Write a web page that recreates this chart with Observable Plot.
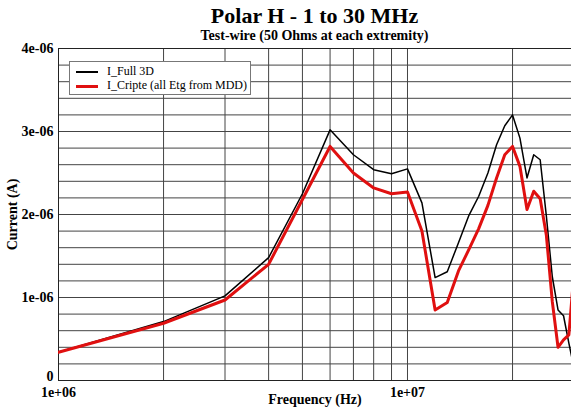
<!DOCTYPE html>
<html>
<head>
<meta charset="utf-8">
<script src="https://cdn.jsdelivr.net/npm/d3@7"></script>
<script src="https://cdn.jsdelivr.net/npm/@observablehq/plot@0.6"></script>
<style>
  body { margin: 0; background: #fff; }
  #wrap { position: relative; width: 571px; height: 410px; overflow: hidden; font-family: "Liberation Serif", "Times New Roman", serif; }
  #title { position: absolute; left: 58px; width: 513px; top: 4px; text-align: center; font-weight: bold; font-size: 22px; line-height: 24px; z-index: 2; }
  #subtitle { position: absolute; left: 58px; width: 513px; top: 28px; text-align: center; font-weight: bold; font-size: 14px; line-height: 16px; z-index: 2; }
  #head { height: 36px; }
  #chart svg { overflow: visible; }
  #legend { position: absolute; left: 69px; top: 61px; width: 180px; height: 32px; background: #fff; border: 1px solid #777; font-size: 12px; }
  .row { position: absolute; left: 6px; height: 14px; line-height: 14px; white-space: nowrap; }
  .sw { display: inline-block; width: 22px; vertical-align: middle; margin-right: 9px; }
</style>
</head>
<body>
<div id="wrap">
  <div id="head"></div>
  <div id="title">Polar H - 1 to 30 MHz</div>
  <div id="subtitle">Test-wire (50 Ohms at each extremity)</div>
  <div id="chart"></div>
  <div id="legend">
    <div class="row" style="top:2px"><span class="sw" style="border-top:2px solid #000"></span>I_Full 3D</div>
    <div class="row" style="top:16px"><span class="sw" style="border-top:3px solid #e01010"></span>I_Cripte (all Etg from MDD)</div>
  </div>
</div>
<script>
const freq = [1e6, 2e6, 3e6, 4e6, 5e6, 6e6, 7e6, 8e6, 9e6, 1e7, 1.1e7, 1.2e7, 1.3e7, 1.4e7, 1.5e7, 1.6e7, 1.7e7, 1.8e7, 1.9e7, 2e7, 2.1e7, 2.2e7, 2.3e7, 2.4e7, 2.5e7, 2.6e7, 2.7e7, 2.8e7, 2.9e7, 3e7];
const full3D = [0.34, 0.71, 1.02, 1.48, 2.25, 3.02, 2.72, 2.54, 2.49, 2.55, 2.14, 1.24, 1.31, 1.66, 1.99, 2.22, 2.50, 2.84, 3.07, 3.20, 2.92, 2.44, 2.72, 2.66, 1.98, 1.25, 0.85, 0.78, 0.45, 0.15];
const cripte = [0.34, 0.69, 0.97, 1.40, 2.18, 2.82, 2.50, 2.32, 2.25, 2.27, 1.80, 0.85, 0.94, 1.32, 1.58, 1.83, 2.11, 2.44, 2.72, 2.82, 2.58, 2.06, 2.28, 2.19, 1.75, 0.95, 0.40, 0.49, 0.55, 1.30];
const seriesNames = ["I_Full 3D", "I_Cripte (all Etg from MDD)"];
const seriesColors = ["#000000", "#e01010"];
const xTicks = [1e6, 1e7];
const yTicks = [1e-6, 2e-6, 3e-6, 4e-6];
const yZeroTick = [0];
const xGrid = [2e6, 3e6, 4e6, 5e6, 6e6, 7e6, 8e6, 9e6, 1e7, 2e7];
const yGrid = d3.range(1, 20).map(i => i * 2e-7);
const xLabel = "Frequency (Hz)";
const yLabel = "Current (A)";

const fmt = d => d === 0 ? "0" : d.toExponential(0).replace(/e([+-])(\d)$/, "e$10$2");

const dataA = freq.map((f, i) => ({f, v: full3D[i] * 1e-6}));
const dataB = freq.map((f, i) => ({f, v: cripte[i] * 1e-6}));

const chart = Plot.plot({
  width: 571,
  height: 374,
  marginLeft: 58,
  marginRight: 0,
  marginTop: 12,
  marginBottom: 30,
  style: {fontFamily: "'Liberation Serif', 'Times New Roman', serif", fontSize: "14px", fontWeight: "bold", background: "transparent", color: "#000", overflow: "visible"},
  x: {type: "log", domain: [1e6, 2.951e7]},
  y: {domain: [0, 4e-6]},
  marks: [
    Plot.ruleX(xGrid, {stroke: "#444", strokeWidth: 1}),
    Plot.ruleY(yGrid, {stroke: "#444", strokeWidth: 1}),
    Plot.frame({stroke: "#222", strokeWidth: 1}),
    Plot.axisY({ticks: yTicks, tickFormat: fmt, tickSize: 0, tickPadding: 5, label: null, fontSize: 14}),
    Plot.axisY({ticks: yZeroTick, tickFormat: fmt, tickSize: 0, tickPadding: 5, label: null, fontSize: 14, dy: -4}),
    Plot.axisX({ticks: xTicks, tickFormat: fmt, tickSize: 0, tickPadding: 5, label: null, fontSize: 14, dy: 2}),
    Plot.text([xLabel], {frameAnchor: "bottom", dy: 23, fontSize: 14, fontWeight: "bold"}),
    Plot.text([yLabel], {frameAnchor: "left", dx: -46, rotate: -90, textAnchor: "middle", fontSize: 14, fontWeight: "bold"}),
    Plot.line(dataA, {x: "f", y: "v", stroke: seriesColors[0], strokeWidth: 1.5, clip: true}),
    Plot.line(dataB, {x: "f", y: "v", stroke: seriesColors[1], strokeWidth: 3, clip: true})
  ]
});
document.getElementById("chart").appendChild(chart);
</script>
</body>
</html>
